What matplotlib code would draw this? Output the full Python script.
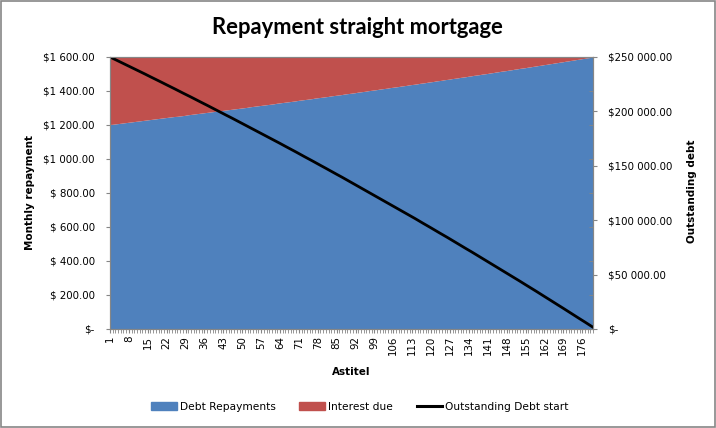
import matplotlib
matplotlib.use('Agg')
from matplotlib import pyplot as plt
from matplotlib.ticker import FixedLocator, MultipleLocator

# Monthly schedule, 180 terms
months = list(range(1, 181))

repay = [
    1200, 1201, 1203, 1205, 1207, 1209, 1211, 1213, 1215, 1217,
    1219, 1221, 1223, 1225, 1227, 1229, 1231, 1233, 1235, 1237,
    1239, 1241, 1243, 1245, 1247, 1248, 1250, 1252, 1254, 1257,
    1259, 1261, 1263, 1265, 1267, 1269, 1271, 1273, 1275, 1277,
    1279, 1281, 1283, 1285, 1287, 1289, 1291, 1293, 1295, 1297,
    1299, 1301, 1304, 1306, 1308, 1310, 1312, 1314, 1316, 1318,
    1320, 1322, 1325, 1327, 1329, 1331, 1333, 1335, 1337, 1339,
    1342, 1344, 1346, 1348, 1350, 1352, 1355, 1357, 1359, 1361,
    1363, 1365, 1368, 1370, 1372, 1374, 1376, 1379, 1381, 1383,
    1385, 1387, 1390, 1392, 1394, 1396, 1399, 1401, 1403, 1405,
    1408, 1410, 1412, 1414, 1417, 1419, 1421, 1423, 1426, 1428,
    1430, 1433, 1435, 1437, 1439, 1442, 1444, 1446, 1449, 1451,
    1453, 1456, 1458, 1460, 1463, 1465, 1467, 1470, 1472, 1474,
    1477, 1479, 1481, 1484, 1486, 1489, 1491, 1493, 1496, 1498,
    1500, 1503, 1505, 1508, 1510, 1513, 1515, 1517, 1520, 1522,
    1525, 1527, 1530, 1532, 1534, 1537, 1539, 1542, 1544, 1547,
    1549, 1552, 1554, 1557, 1559, 1562, 1564, 1567, 1569, 1572,
    1574, 1577, 1579, 1582, 1584, 1587, 1589, 1592, 1594, 1597,
]

interest = [
    400, 398, 396, 394, 392, 390, 388, 387, 385, 383,
    381, 379, 377, 375, 373, 371, 369, 367, 365, 363,
    361, 359, 357, 355, 353, 351, 349, 347, 345, 343,
    341, 339, 337, 335, 333, 331, 329, 327, 325, 323,
    321, 319, 317, 315, 313, 311, 308, 306, 304, 302,
    300, 298, 296, 294, 292, 290, 288, 286, 283, 281,
    279, 277, 275, 273, 271, 269, 267, 264, 262, 260,
    258, 256, 254, 252, 249, 247, 245, 243, 241, 239,
    236, 234, 232, 230, 228, 225, 223, 221, 219, 217,
    214, 212, 210, 208, 205, 203, 201, 199, 197, 194,
    192, 190, 188, 185, 183, 181, 178, 176, 174, 172,
    169, 167, 165, 162, 160, 158, 156, 153, 151, 149,
    146, 144, 142, 139, 137, 135, 132, 130, 128, 125,
    123, 121, 118, 116, 113, 111, 109, 106, 104, 101,
    99, 97, 94, 92, 89, 87, 85, 82, 80, 77,
    75, 72, 70, 68, 65, 63, 60, 58, 55, 53,
    50, 48, 45, 43, 40, 38, 35, 33, 30, 28,
    25, 23, 20, 18, 15, 13, 10, 8, 5, 3,
]

outstanding = [
    250000, 248800, 247600, 246400, 245200, 244000, 242800, 241600, 240300, 239100,
    237900, 236700, 235500, 234300, 233000, 231800, 230600, 229300, 228100, 226900,
    225600, 224400, 223200, 221900, 220700, 219400, 218200, 216900, 215700, 214400,
    213200, 211900, 210600, 209400, 208100, 206900, 205600, 204300, 203000, 201800,
    200500, 199200, 197900, 196600, 195400, 194100, 192800, 191500, 190200, 188900,
    187600, 186300, 185000, 183700, 182400, 181100, 179800, 178500, 177200, 175800,
    174500, 173200, 171900, 170600, 169200, 167900, 166600, 165200, 163900, 162600,
    161200, 159900, 158500, 157200, 155800, 154500, 153100, 151800, 150400, 149100,
    147700, 146300, 145000, 143600, 142200, 140900, 139500, 138100, 136700, 135400,
    134000, 132600, 131200, 129800, 128400, 127000, 125600, 124200, 122800, 121400,
    120000, 118600, 117200, 115800, 114400, 113000, 111500, 110100, 108700, 107300,
    105800, 104400, 103000, 101600, 100100, 98700, 97200, 95800, 94300, 92900,
    91400, 90000, 88500, 87100, 85600, 84200, 82700, 81200, 79800, 78300,
    76800, 75300, 73800, 72400, 70900, 69400, 67900, 66400, 64900, 63400,
    61900, 60400, 58900, 57400, 55900, 54400, 52900, 51400, 49900, 48300,
    46800, 45300, 43800, 42200, 40700, 39200, 37600, 36100, 34600, 33000,
    31500, 29900, 28400, 26800, 25200, 23700, 22100, 20600, 19000, 17400,
    15900, 14300, 12700, 11100, 9500, 8000, 6400, 4800, 3200, 1600,
]

left_ticks = [0, 200, 400, 600, 800, 1000, 1200, 1400, 1600]
left_labels = ['$-', '$ 200.00', '$ 400.00', '$ 600.00', '$ 800.00',
               '$1 000.00', '$1 200.00', '$1 400.00', '$1 600.00']
right_ticks = [0, 50000, 100000, 150000, 200000, 250000]
right_labels = ['$-', '$50 000.00', '$100 000.00', '$150 000.00',
                '$200 000.00', '$250 000.00']

blue = '#4F81BD'
red = '#C0504D'
grey = '#868686'

fig = plt.figure(figsize=(7.16, 4.28), dpi=100)
# chart border
fig.patches.append(plt.Rectangle((0.0007, 0.0012), 0.9986, 0.9976, transform=fig.transFigure,
                                 fill=False, edgecolor=grey, linewidth=1.2))

ax = fig.add_axes([110 / 716, 1 - 329 / 428, 483 / 716, 272 / 428])
ax.stackplot(months, repay, interest, colors=[blue, red], linewidth=0)
ax.set_xlim(1, 180)
ax.set_ylim(0, 1600)
ax.set_yticks(left_ticks)
ax.set_yticklabels(left_labels)
ax.set_xticks(months[::7])
ax.set_xticklabels([str(m) for m in months[::7]], rotation=90)
ax.xaxis.set_minor_locator(MultipleLocator(1))
ax.tick_params(axis='y', length=3, pad=8, labelsize=7.4, color=grey)
ax.tick_params(axis='x', which='both', length=3, pad=2, labelsize=7.4, color=grey)
for s in ax.spines.values():
    s.set_color(grey)

# secondary axis for the debt line
ax2 = ax.twinx()
ax2.plot(months, outstanding, color='black', linewidth=2)
ax2.set_ylim(0, 250000)
ax2.set_yticks(right_ticks)
ax2.set_yticklabels(right_labels)
ax2.yaxis.set_minor_locator(FixedLocator([v * 250000 / 1600 for v in left_ticks[1:-1]]))
ax2.tick_params(axis='y', length=3, pad=8, labelsize=7.4, color=grey)
ax2.tick_params(axis='y', which='minor', direction='in', length=3, color=grey)
for s in ax2.spines.values():
    s.set_color(grey)

fig.text(357 / 716, 1 - 27 / 428, 'Repayment straight mortgage', fontsize=15.8,
         fontweight='bold', family='Lato', ha='center', va='center')
fig.text(30 / 716, 1 - 193 / 428, 'Monthly repayment', fontsize=7.5, fontweight='bold',
         rotation=90, ha='center', va='center')
fig.text(692 / 716, 1 - 191 / 428, 'Outstanding debt', fontsize=7.5, fontweight='bold',
         rotation=90, ha='center', va='center')
fig.text(351 / 716, 1 - 372 / 428, 'Astitel', fontsize=7.5, fontweight='bold',
         ha='center', va='center')

h1 = plt.Rectangle((0, 0), 1, 1, color=blue)
h2 = plt.Rectangle((0, 0), 1, 1, color=red)
h3 = plt.Line2D([], [], color='black', linewidth=2.2)
fig.legend([h1, h2, h3], ['Debt Repayments', 'Interest due', 'Outstanding Debt start'],
           loc='center', bbox_to_anchor=(360 / 716, 1 - 407 / 428), ncol=3, frameon=False,
           fontsize=7.7, handlelength=2.4, handleheight=0.8, handletextpad=0.3, columnspacing=2.2)

fig.savefig('out.png', dpi=100)
